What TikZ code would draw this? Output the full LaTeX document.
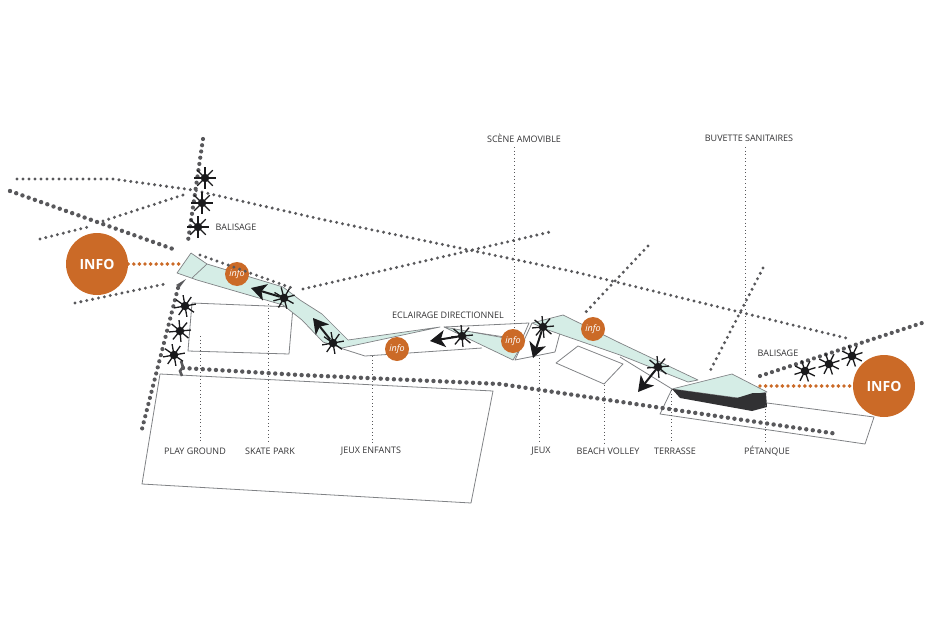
\documentclass[tikz,border=0pt]{standalone}
\usepackage{fontspec}
\setmainfont{Open Sans}
\usetikzlibrary{arrows.meta}
\definecolor{teal1}{HTML}{D5EDE6}
\definecolor{orng}{HTML}{CB6A27}
\definecolor{dotc}{HTML}{58585B}
\definecolor{outl}{HTML}{808285}
\definecolor{ink}{HTML}{1A1A1C}
\definecolor{labelc}{HTML}{333335}
\tikzset{
  x=1pt,y=-1pt,
  band/.style={fill=teal1,draw=outl,line width=.7pt,line join=round},
  plot/.style={draw=outl,line width=.8pt,line join=round},
  thindots/.style={draw=dotc,line width=3.3pt,line cap=round,dash pattern=on 0pt off 6pt},
  thickdots/.style={draw=dotc,line width=4.4pt,line cap=round,dash pattern=on 0pt off 6.6pt},
  meddots/.style={draw=dotc,line width=4.2pt,line cap=round,dash pattern=on 0pt off 6.3pt},
  orangedots/.style={draw=orng,line width=3.9pt,line cap=round,dash pattern=on 0pt off 5.6pt},
  guide/.style={draw=dotc,line width=1pt,dash pattern=on 1pt off 2.6pt},
  lbl/.style={font=\fontsize{9}{11}\selectfont,text=labelc,inner sep=0pt},
  bigcirc/.style={circle,fill=orng,minimum size=62pt,inner sep=0pt,text=white,font=\fontsize{14}{16}\selectfont\bfseries},
  smallcirc/.style={circle,fill=orng,minimum size=24pt,inner sep=0pt,text=white,font=\fontsize{9}{11}\selectfont\itshape},
  spoke/.style={draw=ink,line width=1.3pt},
  hub/.style={circle,fill=ink,minimum size=8.5pt,inner sep=0pt},
  lightarrow/.style={draw=ink,line width=2pt,-{Stealth[length=15pt,width=17pt,inset=4pt]}}
}
\newcommand{\lampstar}[3]{%
  \node[hub] (#1) at (#2) {};
  \foreach \a in {0,45,...,315}{\draw[spoke] (#1.center) -- ++({\a+#3}:11pt);}
}
\begin{document}
\begin{tikzpicture}
\useasboundingbox (0,0) rectangle (934,634);
% plots
\draw[plot] (160,374) -- (493,391) -- (471,503) -- (142,484) -- cycle;
\draw[plot] (192,303) -- (293,307) -- (289,354) -- (188,351) -- cycle;
\draw[plot] (578,346) -- (623,364) -- (604,384) -- (556,363) -- cycle;
\draw[plot] (672,389) -- (660,414) -- (865,444) -- (874,417) -- (767,403);
% outlines of the path
\draw[plot] (340,348) -- (365,356) -- (482,348);
\draw[plot] (444,327) -- (529,323) -- (513,360);
\draw[plot] (532,323) -- (515,360) -- (555,352) -- (560,333);
\draw[plot] (620,357) -- (672,389);
% teal bands
\draw[band] (191,253) -- (207,264) -- (283,287) -- (300,300) -- (322,314) -- (348,340) -- (440,327) -- (342,348) -- (323,342) -- (302,320) -- (283,305) -- (197,280) -- (177,273) -- cycle;
\draw[plot,line width=.7pt] (207,264) -- (192,278);
\draw[band] (444,327) -- (505,338) -- (525,340) -- (513,360) -- cycle;
\draw[plot,line width=.7pt] (472,332) -- (505,337);
\draw[band] (532,323) -- (563,315) -- (620,343) -- (698,380) -- (688,382) -- (620,355) -- (548,330) -- cycle;
% building
\draw[band] (672,389) -- (732,374) -- (767,392) -- (738,398) -- cycle;
\fill[ink!90!white] (672,389) -- (680,398) -- (752,411) -- (767,407) -- (766,393) -- (753,393) -- (737,398) -- cycle;
% info circles
\node[smallcirc] (i1) at (237,274) {info};
\node[smallcirc] (i2) at (397,349) {info};
\node[smallcirc] (i3) at (513,341) {info};
\node[smallcirc] (i4) at (593,329) {info};
\node[bigcirc] (bigL) at (97,264) {INFO};
\node[bigcirc] (bigR) at (884,386) {INFO};
% dotted lines
\draw[thindots] (17,179) -- (113,179) -- (193,190) -- (320,219) -- (575,272) -- (850,339);
\draw[thickdots] (10,191) -- (173,249);
\draw[thindots] (40,239) -- (88,227);
\draw[thindots] (103,221) -- (183,195);
\draw[meddots] (203,139) -- (188,241);
\draw[thindots] (75,303) -- (165,284);
\draw[thindots] (200,255) -- (292,288);
\draw[thindots] (303,289) -- (550,232);
\draw[thindots] (648,246) -- (584,314);
\draw[thindots] (763,268) -- (710,371);
\draw[meddots] (178,288) -- (142,429);
\draw[thickdots] (183,368) -- (300,375) -- (500,384) -- (838,434);
\draw[meddots] (760,376) -- (925,322);
\fill[dotc] (176,285) -- (186,279) -- (180,287) -- cycle;
\draw[dotc,line width=2.6pt] (181,361) -- (183,367) -- (180,371) -- (182,376);
% orange links
\coordinate (pathL) at (184,264);
\coordinate (pathR) at (760,386);
\draw[orangedots] (bigL.east) -- (pathL);
\draw[orangedots] (pathR) -- (bigR.west);
% guide lines
\coordinate (gA) at (514,147); \coordinate (gAe) at (514,330);
\coordinate (gB) at (745,147); \coordinate (gBe) at (745,376);
\draw[guide] (gA) -- (gAe);
\draw[guide] (gB) -- (gBe);
\draw[guide] (200,336) -- (200,442);
\draw[guide] (268,304) -- (268,443);
\draw[guide] (372,356) -- (372,443);
\draw[guide] (539,358) -- (539,443);
\draw[guide] (604,385) -- (604,443);
\draw[guide] (671,390) -- (671,443);
\draw[guide] (765,405) -- (765,443);
% lamps
\lampstar{s1}{205,178}{0}
\lampstar{s2}{202,203}{0}
\lampstar{s3}{198,227}{0}
\lampstar{s4}{185,306}{10}
\lampstar{s5}{180,331}{5}
\lampstar{s6}{174,355}{10}
\lampstar{s7}{284,298}{15}
\lampstar{s8}{333,343}{10}
\lampstar{s9}{462,336}{5}
\lampstar{s10}{543,327}{5}
\lampstar{s11}{658,367}{5}
\lampstar{s12}{805,371}{18}
\lampstar{s13}{829,364}{18}
\lampstar{s14}{852,356}{18}
% arrows
\coordinate (a7) at (251,288);
\coordinate (a8) at (313,318);
\coordinate (a9) at (430,341);
\coordinate (a10) at (533,358);
\coordinate (a11) at (638,392);
\draw[lightarrow] (s7) -- (a7);
\draw[lightarrow] (s8) -- (a8);
\draw[lightarrow] (s9) -- (a9);
\draw[lightarrow] (s10) -- (a10);
\draw[lightarrow] (s11) -- (a11);
% labels
\node[lbl] (t1) at (195,451) {PLAY GROUND};
\node[lbl] (t2) at (270,451) {SKATE PARK};
\node[lbl] (t3) at (371,451) {JEUX ENFANTS};
\node[lbl] (t4) at (541,451) {JEUX};
\node[lbl] (t5) at (608,451) {BEACH VOLLEY};
\node[lbl] (t6) at (675,451) {TERRASSE};
\node[lbl] (t7) at (767,451) {PÉTANQUE};
\node[lbl] (t8) at (524,138) {SCÈNE AMOVIBLE};
\node[lbl] (t9) at (749,138) {BUVETTE SANITAIRES};
\node[lbl] (t10) at (236,227) {BALISAGE};
\node[lbl] (t11) at (448,315) {ECLAIRAGE DIRECTIONNEL};
\node[lbl] (t12) at (778,353) {BALISAGE};
\end{tikzpicture}
\end{document}
